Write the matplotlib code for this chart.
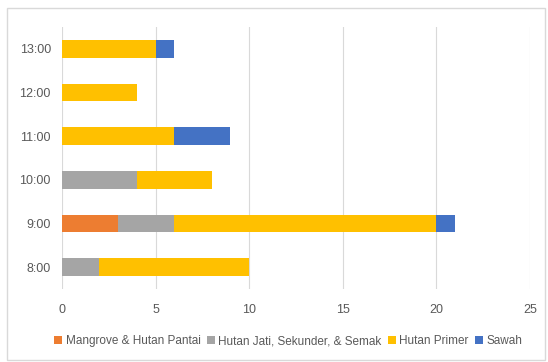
import matplotlib.pyplot as plt
import numpy as np
from matplotlib.patches import Rectangle

# Data
times = ['8:00', '9:00', '10:00', '11:00', '12:00', '13:00']
mangrove = [0, 3, 0, 0, 0, 0]
hutan_jati = [2, 3, 4, 0, 0, 0]
hutan_primer = [8, 14, 4, 6, 4, 5]
sawah = [0, 1, 0, 3, 0, 1]

series = [
    ('Mangrove & Hutan Pantai', mangrove, '#ED7D31'),
    ('Hutan Jati, Sekunder, & Semak', hutan_jati, '#A5A5A5'),
    ('Hutan Primer', hutan_primer, '#FFC000'),
    ('Sawah', sawah, '#4472C4'),
]

plt.rcParams['font.family'] = ['Liberation Sans', 'DejaVu Sans']

fig = plt.figure(figsize=(5.48, 3.62), dpi=100)
ax = fig.add_axes([0.1131, 0.2017, 0.8539, 0.7237])

# outer chart frame
fig.patches.append(Rectangle((7 / 548, 0.005), 0.995 - 7 / 548, 1 - 8 / 362 - 0.005,
                             transform=fig.transFigure, fill=False,
                             edgecolor='#D9D9D9', linewidth=1))

y = np.arange(len(times))
left = np.zeros(len(times))
for label, vals, color in series:
    vals = np.array(vals)
    ax.barh(y, vals, left=left, height=0.4, color=color, label=label, zorder=3)
    left += vals

ax.set_xlim(0, 25)
ax.set_ylim(-0.5, len(times) - 0.5)
ax.set_xticks([0, 5, 10, 15, 20, 25])
ax.set_yticks(y)
ax.set_yticklabels(times)
ax.grid(axis='x', color='#D9D9D9', linewidth=0.8, zorder=0)
for s in ax.spines.values():
    s.set_visible(False)
ax.tick_params(length=0, colors='#595959', labelsize=9, pad=8)
ax.tick_params(axis='x', pad=11)

fig.legend(loc='center', bbox_to_anchor=(0.526, 0.058), ncol=4, frameon=False,
           fontsize=8.5, labelcolor='#595959', handlelength=0.7, handleheight=0.7,
           handletextpad=0.3, columnspacing=0.5)

fig.savefig('out.png', dpi=100)
